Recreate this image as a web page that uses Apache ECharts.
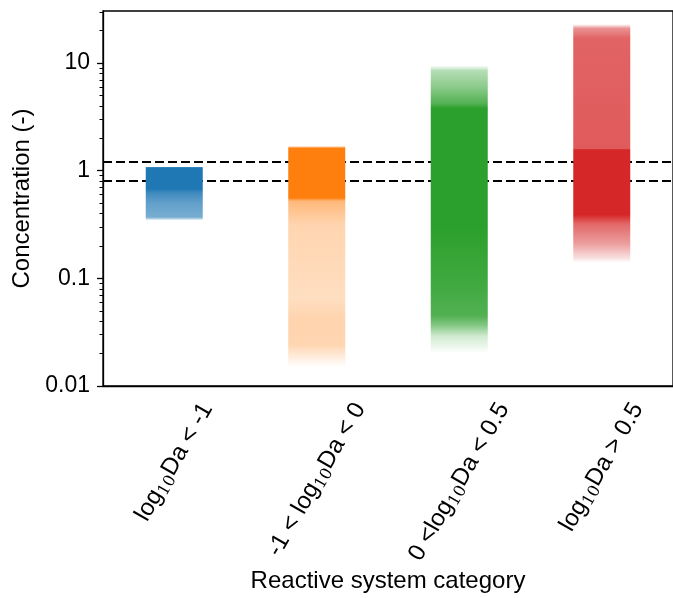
<!DOCTYPE html>
<html>
<head>
<meta charset="utf-8">
<script src="https://cdn.jsdelivr.net/npm/echarts@6/dist/echarts.min.js"></script>
<style>
  html, body { margin: 0; padding: 0; background: #fff; }
  #chart { width: 673px; height: 598px; }
</style>
</head>
<body>
<div id="chart"></div>
<script>
// Reactive system categories (x axis)
const categories = ['log10Da < -1', '-1 < log10Da < 0', '0 <log10Da < 0.5', 'log10Da > 0.5'];
// Same labels split into normal text (n) and subscript (s) pieces
const categoryParts = [
  [['n', 'log'], ['s', '10'], ['n', 'Da < -1']],
  [['n', '-1 < log'], ['s', '10'], ['n', 'Da < 0']],
  [['n', '0 <log'], ['s', '10'], ['n', 'Da < 0.5']],
  [['n', 'log'], ['s', '10'], ['n', 'Da > 0.5']]
];

// Concentration axis
const yMin = 0.01;
const yMax = 30.5;
const yMajorTicks = [0.01, 0.1, 1, 10];
const yMinorTicks = [0.02, 0.03, 0.04, 0.05, 0.06, 0.07, 0.08, 0.09,
                     0.2, 0.3, 0.4, 0.5, 0.6, 0.7, 0.8, 0.9,
                     2, 3, 4, 5, 6, 7, 8, 9, 20, 30];
const thresholds = [0.8, 1.2];

// Point density of each strip: concentration levels (high to low)
// and the share of the strip covered by points at that level
const blueLevels   = [1.09, 1.07, 0.68, 0.62, 0.5, 0.37, 0.345];
const blueCover    = [0, 1, 1, 0.85, 0.7, 0.6, 0];
const orangeLevels = [1.7, 1.62, 0.56, 0.52, 0.31, 0.066, 0.04, 0.024, 0.018, 0.015];
const orangeCover  = [0, 1, 1, 0.55, 0.33, 0.26, 0.34, 0.32, 0.12, 0];
const greenLevels  = [9.5, 8.5, 6, 4.2, 3.8, 0.3, 0.085, 0.045, 0.037, 0.029, 0.02];
const greenCover   = [0, 0.35, 0.55, 0.82, 1, 1, 0.9, 0.82, 0.6, 0.22, 0];
const redLevels    = [23, 21, 17, 1.6, 1.57, 0.39, 0.32, 0.21, 0.155, 0.14];
const redCover     = [0, 0.5, 0.72, 0.76, 1, 1, 0.7, 0.45, 0.15, 0];

const stripLevels = [blueLevels, orangeLevels, greenLevels, redLevels];
const stripCover = [blueCover, orangeCover, greenCover, redCover];
const stripRGB = [[31, 119, 180], [255, 127, 14], [44, 160, 44], [214, 39, 40]];
const jitterWidth = 0.4; // fraction of a category band

const FONT = '"Liberation Sans", Arial, sans-serif';
const SUBFONT = '"DejaVu Serif", serif';
const FS = 24;
const SUBFS = 16;

const chart = echarts.init(document.getElementById('chart'), null, { renderer: 'canvas' });

function renderStrip(params, api) {
  const idx = api.value(0);
  const levels = stripLevels[idx];
  const cover = stripCover[idx];
  const rgb = stripRGB[idx];
  const top = api.coord([idx, levels[0]]);
  const bottom = api.coord([idx, levels[levels.length - 1]]);
  const w = api.size([1, 0])[0] * jitterWidth;
  const h = bottom[1] - top[1];
  const stops = levels.map((v, k) => ({
    offset: Math.min(1, Math.max(0, (api.coord([idx, v])[1] - top[1]) / h)),
    color: 'rgba(' + rgb.join(',') + ',' + cover[k] + ')'
  }));
  return {
    type: 'rect',
    shape: { x: top[0] - w / 2, y: top[1], width: w, height: h },
    style: { fill: new echarts.graphic.LinearGradient(0, 0, 0, 1, stops) }
  };
}

const option = {
  animation: false,
  backgroundColor: '#fff',
  grid: {
    left: 103, top: 11, right: -10, bottom: 212,
    show: true, borderColor: '#000', borderWidth: 1.3, backgroundColor: 'transparent'
  },
  xAxis: {
    type: 'category',
    data: categories,
    boundaryGap: true,
    name: 'Reactive system category',
    nameLocation: 'middle',
    nameGap: 183,
    nameTextStyle: { color: '#000', fontSize: FS, fontFamily: FONT },
    axisLine: { lineStyle: { color: '#000', width: 1.3 } },
    axisTick: { alignWithLabel: true, length: 6, lineStyle: { color: '#000', width: 1.3 } },
    axisLabel: { show: false },
    splitLine: { show: false }
  },
  yAxis: [
    {
      type: 'log',
      logBase: 10,
      min: yMin,
      max: yMax,
      name: 'Concentration (-)',
      nameLocation: 'middle',
      nameGap: 61,
      nameTextStyle: { color: '#000', fontSize: FS, fontFamily: FONT },
      axisLine: { show: true, lineStyle: { color: '#000', width: 1.3 } },
      axisTick: { show: true, length: 6, customValues: yMajorTicks, lineStyle: { color: '#000', width: 1.3 } },
      axisLabel: {
        customValues: yMajorTicks,
        margin: 13,
        color: '#000', fontSize: 23, fontFamily: FONT,
        formatter: v => String(+Number(v).toPrecision(3))
      },
      splitLine: { show: false }
    },
    {
      type: 'log',
      logBase: 10,
      min: yMin,
      max: yMax,
      position: 'left',
      axisLine: { show: false },
      axisTick: { show: true, length: 3.5, customValues: yMinorTicks, lineStyle: { color: '#000', width: 1 } },
      axisLabel: { show: false },
      splitLine: { show: false }
    }
  ],
  series: [
    {
      type: 'line',
      data: [],
      symbol: 'none',
      z: 1,
      markLine: {
        silent: true,
        symbol: ['none', 'none'],
        label: { show: false },
        lineStyle: { color: '#000', width: 2, type: [9, 4] },
        data: thresholds.map(t => ({ yAxis: t }))
      }
    },
    {
      type: 'custom',
      z: 10,
      renderItem: renderStrip,
      encode: { x: 0, y: [1, 2] },
      data: categories.map((c, i) => [i, stripLevels[i][0], stripLevels[i][stripLevels[i].length - 1]])
    }
  ]
};

chart.setOption(option);

// Rotated category labels, centred under each tick like matplotlib's rotated tick labels
function placeCategoryLabels() {
  const ctx = document.createElement('canvas').getContext('2d');
  const axisY = chart.convertToPixel({ yAxisIndex: 0 }, yMin);
  const top = axisY + 6 + 6;
  const ang = Math.PI / 3;
  const lineH = 28;
  const elements = categoryParts.map((parts, i) => {
    let w = 0;
    parts.forEach(([k, t]) => {
      ctx.font = (k === 's' ? SUBFS + 'px ' + SUBFONT : FS + 'px ' + FONT);
      w += ctx.measureText(t).width;
    });
    const bboxH = w * Math.sin(ang) + lineH * Math.cos(ang);
    const x = chart.convertToPixel({ xAxisIndex: 0 }, i);
    return {
      type: 'text',
      x: x,
      y: top + bboxH / 2,
      rotation: ang,
      silent: true,
      style: {
        text: parts.map(([k, t]) => '{' + k + '|' + t + '}').join(''),
        align: 'center',
        verticalAlign: 'middle',
        fill: '#000',
        rich: {
          n: { fontSize: FS, fontFamily: FONT, fill: '#000', lineHeight: lineH },
          s: { fontSize: SUBFS, fontFamily: SUBFONT, fill: '#000', lineHeight: 12, verticalAlign: 'bottom' }
        }
      }
    };
  });
  chart.setOption({ graphic: elements });
}
placeCategoryLabels();
</script>
</body>
</html>
